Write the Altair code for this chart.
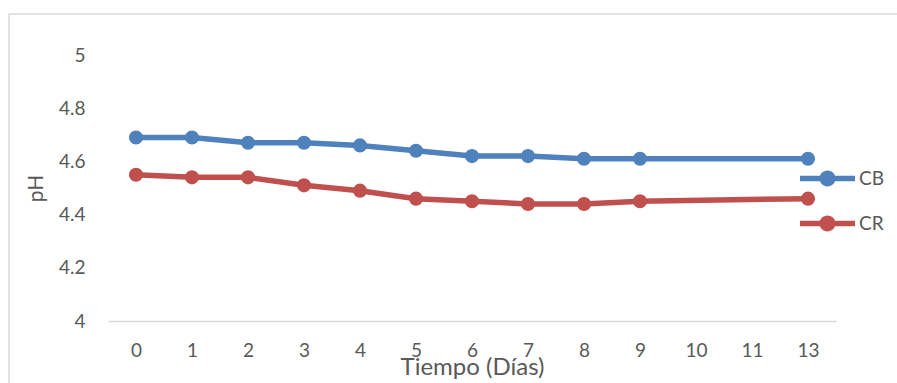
import altair as alt
import pandas as pd

x_categories = ["0", "1", "2", "3", "4", "5", "6", "7", "8", "9", "10", "11", "13"]
days = ["0", "1", "2", "3", "4", "5", "6", "7", "8", "9", "13"]
cb_values = [4.69, 4.69, 4.67, 4.67, 4.66, 4.64, 4.62, 4.62, 4.61, 4.61, 4.61]
cr_values = [4.55, 4.54, 4.54, 4.51, 4.49, 4.46, 4.45, 4.44, 4.44, 4.45, 4.46]
series = ["CB", "CR"]
colors = ["#4F81BD", "#C0504D"]
y_ticks = [4, 4.2, 4.4, 4.6, 4.8, 5]

rows = []
for name, vals in zip(series, [cb_values, cr_values]):
    for d, v in zip(days, vals):
        rows.append({"Tiempo": d, "pH": v, "Serie": name})
df = pd.DataFrame(rows)

FONT = "Lato"
GREY = "#595959"

legend_path = ("M-1,-0.1 L1,-0.1 L1,0.1 L-1,0.1 Z "
               "M-0.29,0 A0.29,0.29 0 1,1 0.29,0 A0.29,0.29 0 1,1 -0.29,0 Z")

x_enc = alt.X("Tiempo:O", scale=alt.Scale(domain=x_categories, type="point", padding=0.5),
              sort=x_categories,
              axis=alt.Axis(title="Tiempo (Días)", labelAngle=0, ticks=False, grid=False,
                            domainColor="#D9D9D9", domainWidth=1.5,
                            labelFont=FONT, labelFontSize=19, labelColor=GREY,
                            labelPadding=20,
                            titleFont=FONT, titleFontSize=24, titleColor=GREY,
                            titleFontWeight="normal", titlePadding=-5))
y_enc = alt.Y("pH:Q", scale=alt.Scale(domain=[4, 5], zero=False, nice=False),
              axis=alt.Axis(title="pH", values=y_ticks, format=".1~f", ticks=False,
                            grid=False, domain=False,
                            labelFont=FONT, labelFontSize=19, labelColor=GREY,
                            labelPadding=23,
                            titleFont=FONT, titleFontSize=21, titleColor=GREY,
                            titleFontWeight="normal", titlePadding=12))
color_scale = alt.Scale(domain=series, range=colors)
legend = alt.Legend(title=None, orient="none", legendX=692, legendY=96,
                    symbolType=legend_path, symbolSize=3025,
                    symbolStrokeWidth=0, symbolOpacity=1,
                    symbolFillColor="#4F81BD",
                    labelFont=FONT, labelFontSize=19, labelColor=GREY,
                    labelOffset=4, rowPadding=7, padding=0)

frame = alt.Chart(pd.DataFrame({"a": [0]})).mark_rect(
    filled=False, stroke="#D9D9D9", strokeWidth=1.5, clip=False
).encode(x=alt.value(-99), x2=alt.value(800), y=alt.value(-41), y2=alt.value(340))

lines = alt.Chart(df).mark_line(strokeWidth=5.5).encode(
    x=x_enc, y=y_enc,
    color=alt.Color("Serie:N", scale=color_scale, legend=legend),
)
points = alt.Chart(df).mark_circle(size=200, opacity=1).encode(
    x=x_enc, y=y_enc,
    color=alt.Color("Serie:N", scale=color_scale, legend=legend),
)

chart = alt.layer(frame, lines, points).properties(
    width=728, height=266,
    autosize=alt.AutoSizeParams(type="none"),
    padding={"left": 108, "top": 55, "right": 61, "bottom": 62},
).configure(background="white").configure_view(strokeWidth=0, stroke=None)

chart.save("out.html", embed_options={"renderer": "svg", "actions": False})
